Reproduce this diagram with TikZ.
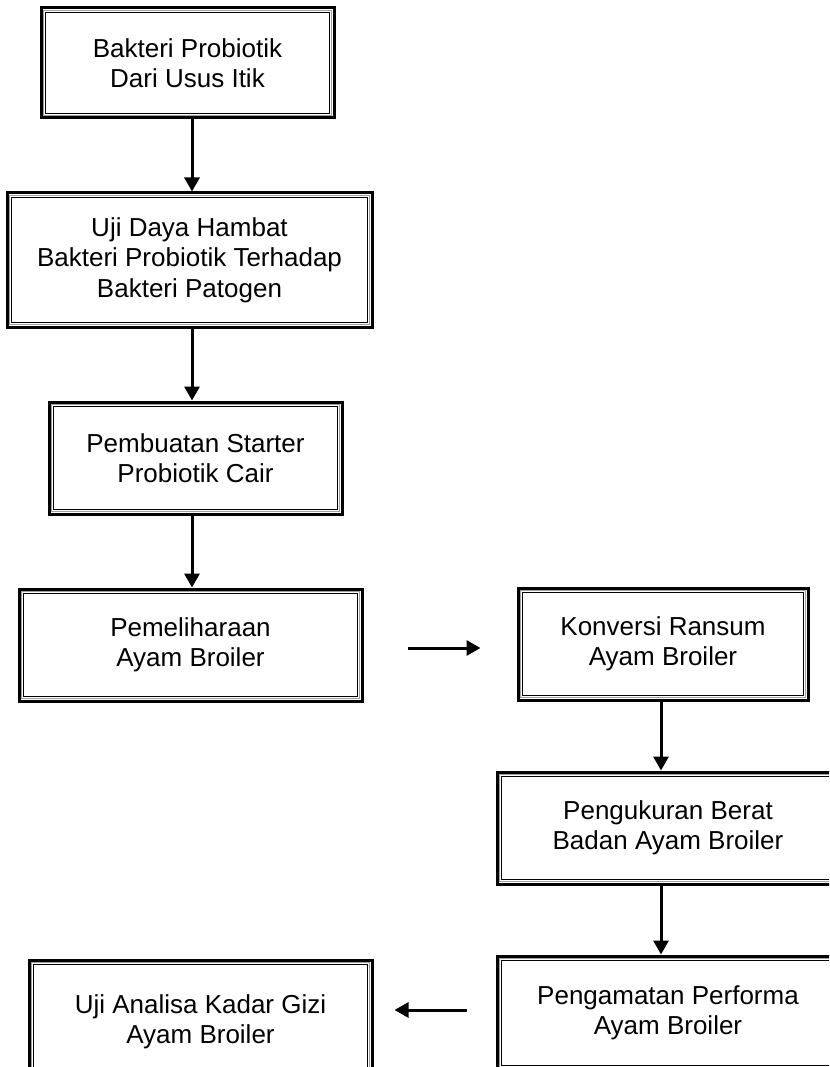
\documentclass[tikz,border=0pt]{standalone}
\usepackage{fontspec}
\setmainfont{Liberation Sans}
\usetikzlibrary{arrows.meta}
\begin{document}
\begin{tikzpicture}[x=1pt,y=-1pt,
  box/.style={draw=black,line width=3pt,fill=white,align=center,inner sep=0pt,
    font=\fontsize{26}{30.5}\selectfont,
    path picture={
      \draw[gray!75,line width=1.5pt]
        ([shift={(2.5pt,2.5pt)}]path picture bounding box.south west) rectangle
        ([shift={(-2.5pt,-2.5pt)}]path picture bounding box.north east);
      \draw[black,line width=1pt]
        ([shift={(4.2pt,4.2pt)}]path picture bounding box.south west) rectangle
        ([shift={(-4.2pt,-4.2pt)}]path picture bounding box.north east);
    }},
  arr/.style={line width=3pt,-{Triangle[length=14pt,width=15pt]}}]
\useasboundingbox (0,0) rectangle (829,1067);
\clip (0,0) rectangle (829,1067);
\fill[white] (0,0) rectangle (829,1067);
\coordinate (colL) at (192,0);
\coordinate (colR) at (661,0);
\node[box,minimum width=293pt,minimum height=110pt] (b1) at (187.5,63) {Bakteri Probiotik\\Dari Usus Itik};
\node[box,minimum width=365pt,minimum height=134pt] (b2) at (189.5,260) {Uji Daya Hambat\\Bakteri Probiotik Terhadap\\Bakteri Patogen};
\node[box,minimum width=293pt,minimum height=112pt] (b3) at (195.5,458) {Pembuatan Starter\\Probiotik Cair};
\node[box,minimum width=343pt,minimum height=112pt] (b4) at (190.5,645) {Pemeliharaan\\Ayam Broiler};
\node[box,minimum width=290pt,minimum height=112pt] (b5) at (663,644) {Konversi Ransum\\Ayam Broiler};
\node[box,minimum width=342pt,minimum height=112pt] (b6) at (668,828) {Pengukuran Berat\\Badan Ayam Broiler};
\node[box,minimum width=342pt,minimum height=114pt] (b7) at (668,1013) {Pengamatan Performa\\Ayam Broiler};
\node[box,minimum width=343pt,minimum height=124pt] (b8) at (200.5,1022) {Uji Analisa Kadar Gizi\\Ayam Broiler};
\draw[arr] (b1.south -| colL) -- (b2.north -| colL);
\draw[arr] (b2.south -| colL) -- (b3.north -| colL);
\draw[arr] (b3.south -| colL) -- (b4.north -| colL);
\draw[arr] (b5.south -| colR) -- (b6.north -| colR);
\draw[arr] (b6.south -| colR) -- (b7.north -| colR);
\draw[arr] ([shift={(44,3)}]b4.east) -- ++(73,0);
\draw[arr] ([shift={(-29,-3)}]b7.west) -- ++(-72,0);
\end{tikzpicture}
\end{document}
